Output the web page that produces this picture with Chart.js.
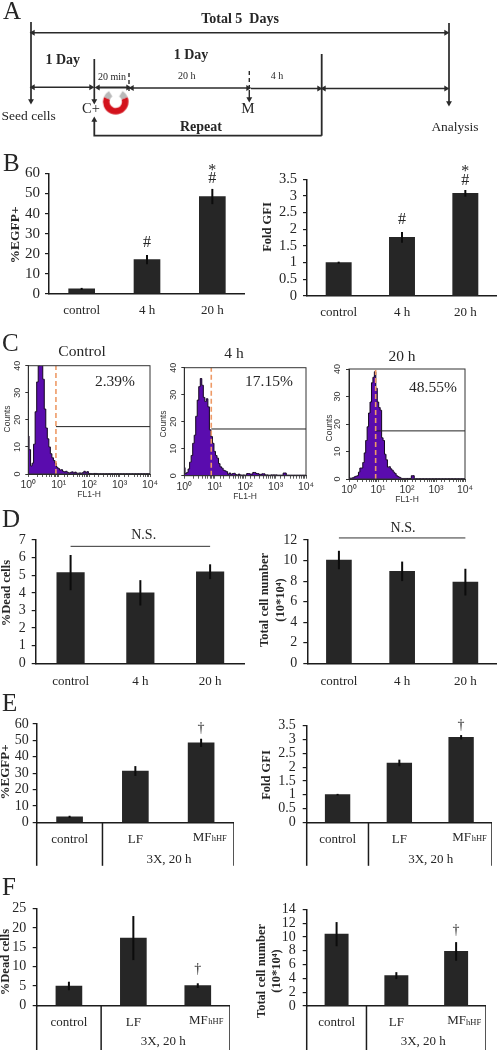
<!DOCTYPE html>
<html>
<head>
<meta charset="utf-8">
<title>Panels A-F</title>
<script src="https://cdn.jsdelivr.net/npm/chart.js@4/dist/chart.umd.min.js"></script>
<style>
html, body { margin: 0; padding: 0; background: #fff; }
#page { position: relative; width: 497px; height: 1050px; overflow: hidden; }
#page canvas { position: absolute; filter: blur(0.35px); }
</style>
</head>
<body>
<div id="page"></div>
<script>
// Categories
const timeCats = ['control', '4 h', '20 h'];
const fieldCats = ['control', 'LF', 'MFhHF'];

// Panel B
const bEgfp = [2.4, 17, 48.5];
const bEgfpErr = [0.5, 2.3, 3.8];
const bGfi = [1, 1.76, 3.08];
const bGfiErr = [0.03, 0.16, 0.1];

// Panel C, shared FL1-H bins and counts per bin
const flBins = [1, 1.12, 1.26, 1.41, 1.58, 1.78, 2, 2.24, 2.51, 2.82, 3.16, 3.55, 3.98, 4.47, 5.01, 5.62, 6.31, 7.08, 7.94, 8.91,
  10, 11.2, 12.6, 14.1, 15.8, 17.8, 20, 22.4, 25.1, 28.2, 31.6, 35.5, 39.8, 44.7, 50.1, 56.2, 63.1, 70.8, 79.4, 89.1,
  100, 126, 158, 200, 251, 316, 398, 501, 631, 794, 1000, 1260, 1580, 2000, 2510, 3160, 3980, 5010, 6310, 7940, 10000];
const controlCounts = [14, 9, 3, 4, 11, 23, 34, 40, 42, 42, 35, 24, 17, 13, 10, 7.5, 6, 5, 4, 2.5,
  2, 1.5, 1.6, 1, 0.8, 1, 0.6, 0.4, 0.6, 0.8, 0.4, 0.7, 0.3, 0.3, 0.4, 0.3, 0.5, 1, 0.5, 0.9,
  0.2, 0.1, 0.2, 0.1, 0.1, 0.1, 0.1, 0.1, 0.1, 0.1, 0.1, 0.1, 0.1, 0.1, 0.1, 0.1, 0.1, 0.1, 0.1, 0.1, 0.1];
const fourHourCounts = [3, 0.8, 1.2, 2.5, 5, 7.5, 12, 15, 22, 28, 33, 36, 33.5, 29, 27.5, 28.5, 25.5, 17, 14.5, 12,
  9, 7.5, 6.5, 4.5, 3.3, 2.8, 2, 1.8, 1.5, 0.6, 1, 0.5, 0.8, 0.9, 0.4, 0.3, 0.6, 0.3, 0.2, 0.3,
  0.2, 0.8, 0.6, 1.2, 0.8, 0.5, 0.7, 0.3, 0.2, 0.3, 0.3, 0.2, 0.2, 1, 0.2, 0.2, 0.2, 0.2, 0.2, 0.2, 0.2];
const twentyHourCounts = [0.3, 0.3, 0.3, 0.5, 0.8, 1, 1.2, 2.5, 4, 4, 6, 9.5, 14, 19, 24, 28, 35, 37, 39, 33,
  28, 26, 25, 15, 14, 9, 7, 4.3, 4.5, 3.7, 3.2, 2.5, 2, 1.2, 0.9, 0.6, 0.3, 0.2, 0.2, 0.2,
  0.2, 0.2, 1.2, 0.1, 0.1, 0.1, 0.1, 0.1, 0.1, 0.1, 0.1, 0.1, 0.1, 0.1, 0.1, 0.1, 0.1, 0.1, 0.1, 0.1, 0.1];

// Panel D
const dDead = [5.15, 4, 5.2];
const dDeadErr = [1, 0.72, 0.42];
const dTotal = [10.05, 8.95, 7.9];
const dTotalErr = [0.9, 0.95, 1.3];

// Panel E
const eEgfp = [3.3, 31.3, 48.5];
const eEgfpErr = [0.7, 3, 2.5];
const eGfi = [1, 2.15, 3.08];
const eGfiErr = [0.03, 0.12, 0.08];

// Panel F
const fDead = [5, 17.4, 5.1];
const fDeadErr = [1.1, 5.7, 0.6];
const fTotal = [10.4, 4.4, 7.9];
const fTotalErr = [1.75, 0.5, 1.35];

const SERIF = '"Liberation Serif", "Times New Roman", serif';
const SANS = '"Liberation Sans", Arial, sans-serif';
const INK = '#1c1c1c';
const TEXT = '#262626';
const page = document.getElementById('page');

// Make a canvas placed on the page
function addCanvas(left, top, width, height) {
    const c = document.createElement('canvas');
    c.width = width;
    c.height = height;
    c.style.left = left + 'px';
    c.style.top = top + 'px';
    c.style.width = width + 'px';
    c.style.height = height + 'px';
    page.appendChild(c);
    return c;
}

// Free text written in page coordinates
const notesPlugin = {
    id: 'notes',
    afterDraw(chart, args, opts) {
        const ctx = chart.ctx;
        (opts.items || []).forEach(n => {
            ctx.save();
            ctx.translate(n.x - opts.left, n.y - opts.top);
            if (n.rot) ctx.rotate(n.rot * Math.PI / 180);
            ctx.font = (n.bold ? 'bold ' : '') + (n.size || 14) + 'px ' + (n.family || SERIF);
            ctx.fillStyle = n.color || TEXT;
            ctx.textAlign = n.align || 'center';
            ctx.textBaseline = 'middle';
            ctx.fillText(n.text, 0, 0);
            ctx.restore();
        });
    }
};

// Error bars and the bracket lines under the grouped axes
const barExtras = {
    id: 'barExtras',
    afterDatasetsDraw(chart, args, opts) {
        const ctx = chart.ctx;
        const x = chart.scales.x;
        const y = chart.scales.y;
        ctx.save();
        ctx.strokeStyle = '#0c0c0c';
        ctx.lineWidth = 2;
        (opts.errs || []).forEach((e, i) => {
            const px = x.getPixelForValue(i);
            ctx.beginPath();
            ctx.moveTo(px, y.getPixelForValue(opts.vals[i] + e));
            ctx.lineTo(px, y.getPixelForValue(opts.vals[i] - e));
            ctx.stroke();
        });
        // marks above the bars, placed by value
        (opts.marks || []).forEach(m => {
            ctx.font = (m.size || 18) + 'px ' + SERIF;
            ctx.fillStyle = TEXT;
            ctx.textAlign = 'center';
            ctx.textBaseline = 'middle';
            ctx.fillText(m.text, x.getPixelForValue(m.cat), y.getPixelForValue(m.val));
        });
        if (opts.groupDrop) {
            const a = chart.chartArea;
            const mid = (x.getPixelForValue(0) + x.getPixelForValue(1)) / 2;
            ctx.strokeStyle = INK;
            ctx.lineWidth = 1.5;
            [a.left, mid, a.right].forEach(px => {
                ctx.beginPath();
                ctx.moveTo(px, a.bottom);
                ctx.lineTo(px, a.bottom + opts.groupDrop);
                ctx.stroke();
            });
        }
        ctx.restore();
    }
};

// One bar panel
function barPanel(p) {
    const top = p.top;
    const mL = p.x0 - p.left;
    const mT = p.y1 - top;
    const height = Math.ceil(p.y0 - top + p.mB);
    const width = p.x1 - p.left;
    const canvas = addCanvas(p.left, top, width, height);
    const datasets = [{
        type: 'bar',
        data: p.vals,
        backgroundColor: '#262626',
        barThickness: p.barW,
        order: 2
    }];
    if (p.nsValue) {
        datasets.push({
            type: 'line',
            data: [p.nsValue, null, p.nsValue],
            spanGaps: true,
            clip: false,
            borderColor: '#333',
            borderWidth: 1,
            pointRadius: 0,
            order: 1
        });
    }
    new Chart(canvas, {
        type: 'bar',
        data: { labels: p.cats, datasets },
        plugins: [barExtras, notesPlugin],
        options: {
            responsive: false,
            animation: false,
            layout: { autoPadding: false, padding: { top: mT, left: 0, right: 0, bottom: 0 } },
            plugins: {
                legend: { display: false },
                tooltip: { enabled: false },
                barExtras: { vals: p.vals, errs: p.errs, marks: p.marks, groupDrop: p.groupDrop },
                notes: { left: p.left, top, items: p.notes }
            },
            scales: {
                x: {
                    afterFit(s) { s.height = height - (p.y0 - top); },
                    grid: { display: false, drawTicks: false },
                    border: { color: INK, width: 1.5 },
                    ticks: {
                        padding: p.xPad,
                        color: TEXT,
                        maxRotation: 0,
                        autoSkip: false,
                        font: { family: SERIF, size: 13 },
                        // the subscript label is written as a note
                        callback(v) { const l = this.getLabelForValue(v); return l === 'MFhHF' ? '' : l; }
                    }
                },
                y: {
                    min: 0,
                    max: p.yMax,
                    afterFit(s) { s.width = mL; },
                    grid: { drawOnChartArea: false, drawTicks: true, tickLength: 4, color: INK, lineWidth: 1.2 },
                    border: { color: INK, width: 1.5 },
                    ticks: {
                        stepSize: p.step,
                        padding: p.yPad,
                        autoSkip: false,
                        color: TEXT,
                        font: { family: SERIF, size: p.tickSize || 14 },
                        callback: v => String(v)
                    }
                }
            }
        }
    });
}

// One flow cytometry histogram
function histPanel(p) {
    const top = p.top;
    const mL = p.x0 - p.left;
    const mT = p.y1 - top;
    const height = Math.ceil(p.y0 - top + 27);
    const rightRoom = 14;
    const width = p.x1 - p.left + rightRoom;
    const canvas = addCanvas(p.left, top, width, height);
    const points = flBins.map((x, i) => ({ x, y: p.counts[i] }));
    new Chart(canvas, {
        type: 'line',
        data: {
            datasets: [
                { data: [{ x: p.gate, y: 0 }, { x: p.gate, y: 40 }], borderColor: '#ee9a66', borderWidth: 1.6, borderDash: [5, 3], pointRadius: 0, order: 1 },
                { data: [{ x: p.gate, y: p.marker }, { x: 10000, y: p.marker }], borderColor: '#222', borderWidth: 1, pointRadius: 0, order: 2 },
                { data: points, stepped: 'middle', borderColor: '#14061f', borderWidth: 1, pointRadius: 0, fill: 'origin', backgroundColor: '#5a0cae', order: 3 }
            ]
        },
        plugins: [notesPlugin, {
            id: 'frame',
            afterDatasetsDraw(chart) {
                const a = chart.chartArea;
                chart.ctx.save();
                chart.ctx.strokeStyle = '#333';
                chart.ctx.lineWidth = 1;
                chart.ctx.strokeRect(a.left, a.top, a.right - a.left, a.bottom - a.top);
                chart.ctx.restore();
            }
        }],
        options: {
            responsive: false,
            animation: false,
            layout: { autoPadding: false, padding: { top: mT, left: 0, right: rightRoom, bottom: 0 } },
            plugins: {
                legend: { display: false },
                tooltip: { enabled: false },
                notes: { left: p.left, top, items: p.notes }
            },
            scales: {
                x: {
                    type: 'logarithmic',
                    min: 1,
                    max: 10000,
                    afterFit(s) { s.height = height - (p.y0 - top); s.paddingRight = 0; },
                    grid: { drawOnChartArea: false, tickLength: 3, color: '#333', lineWidth: 0.8 },
                    border: { color: '#222', width: 1 },
                    title: { display: true, text: 'FL1-H', color: '#333', font: { family: SANS, size: 8.5 }, padding: { top: 0, bottom: 1 } },
                    ticks: {
                        padding: 2,
                        color: '#333',
                        autoSkip: false,
                        maxRotation: 0,
                        font: { family: SANS, size: 10.5 },
                        callback(v) {
                            const sup = { 1: '10\u2070', 10: '10\u00b9', 100: '10\u00b2', 1000: '10\u00b3', 10000: '10\u2074' };
                            return sup[v] || '';
                        }
                    }
                },
                y: {
                    min: 0,
                    max: 40,
                    afterFit(s) { s.width = mL; },
                    grid: { drawOnChartArea: false, tickLength: 3, color: '#333', lineWidth: 1 },
                    border: { color: '#222', width: 1 },
                    ticks: {
                        stepSize: 10,
                        padding: 3,
                        color: '#333',
                        autoSkip: false,
                        minRotation: 90,
                        maxRotation: 90,
                        crossAlign: 'center',
                        font: { family: SANS, size: 9 }
                    }
                }
            }
        }
    });
}

// Build a magnet icon used as a point style
function magnetIcon() {
    const c = document.createElement('canvas');
    c.width = 30;
    c.height = 30;
    const g = c.getContext('2d');
    g.lineWidth = 6.5;
    g.strokeStyle = '#d3121c';
    g.beginPath();
    g.arc(15, 14, 9.5, -0.12 * Math.PI, 1.12 * Math.PI);
    g.stroke();
    g.strokeStyle = '#b9b9b9';
    g.beginPath();
    g.arc(15, 14, 9.5, -0.32 * Math.PI, -0.12 * Math.PI);
    g.stroke();
    g.beginPath();
    g.arc(15, 14, 9.5, 1.12 * Math.PI, 1.32 * Math.PI);
    g.stroke();
    return c;
}

// One segment of the protocol diagram, heads gives the arrow heads as [start, end]
function segment(pts, heads, extra) {
    return Object.assign({
        data: pts.map(p => ({ x: p[0], y: p[1] })),
        showLine: true,
        borderColor: '#2a2a2a',
        borderWidth: 1.4,
        pointBackgroundColor: '#2a2a2a',
        pointBorderColor: '#2a2a2a',
        pointBorderWidth: 0,
        pointStyle: 'triangle',
        pointRadius: pts.map((p, i) => {
            if (i === 0) return heads && heads[0] !== null ? 3.4 : 0;
            if (i === pts.length - 1) return heads && heads[1] !== null ? 3.4 : 0;
            return 0;
        }),
        pointRotation: pts.map((p, i) => (i === 0 && heads ? heads[0] : heads ? heads[1] : 0)),
        clip: false
    }, extra || {});
}

// Panel A, the protocol timeline
function timeline() {
    const canvas = addCanvas(0, 0, 497, 160);
    const L = 270, R = 90, D = 180, U = 0;
    new Chart(canvas, {
        type: 'scatter',
        data: {
            datasets: [
                segment([[31, 22], [31, 101]], [null, D], { borderWidth: 1.7 }),
                segment([[33, 32.7], [446, 32.7]], [L, R]),
                segment([[449, 23], [449, 103]], [null, D], { borderWidth: 1.7 }),
                segment([[94.3, 59], [94.3, 101]], [null, D], { borderWidth: 1.7 }),
                segment([[33, 87.3], [91, 87.3]], [L, R]),
                segment([[98, 87.5], [128, 87.5]], [L, R], { borderWidth: 2 }),
                segment([[129, 73], [129, 91]], null, { borderDash: [4, 3] }),
                segment([[132, 88], [248, 88]], [L, R], { borderWidth: 1.7 }),
                segment([[249.3, 71], [249.3, 90]], null, { borderDash: [4, 3] }),
                segment([[249.3, 90], [249.3, 99]], [null, D]),
                segment([[251, 88.5], [319, 88.5]], [null, R]),
                segment([[324, 88.5], [446, 88.5]], [L, R]),
                segment([[321.7, 54], [321.7, 135.7]], null, { borderWidth: 1.8 }),
                segment([[321.7, 135.7], [94.3, 135.7], [94.3, 120]], [null, U], { borderWidth: 1.8 }),
                { data: [{ x: 115.7, y: 102.7 }], pointStyle: magnetIcon(), pointRadius: 15, showLine: false }
            ]
        },
        plugins: [notesPlugin],
        options: {
            responsive: false,
            animation: false,
            layout: { autoPadding: false, padding: 0 },
            plugins: {
                legend: { display: false },
                tooltip: { enabled: false },
                notes: {
                    left: 0,
                    top: 0,
                    items: [
                        { text: 'A', x: 3, y: 12, size: 25, align: 'left' },
                        { text: 'Total 5  Days', x: 240, y: 19, size: 14, bold: true },
                        { text: '1 Day', x: 62.7, y: 60, size: 14, bold: true },
                        { text: '1 Day', x: 191, y: 55, size: 14, bold: true },
                        { text: '20 min', x: 112, y: 77, size: 10 },
                        { text: '20 h', x: 186.7, y: 76.5, size: 10 },
                        { text: '4 h', x: 277, y: 76.5, size: 10 },
                        { text: 'Seed cells', x: 28.7, y: 116.5, size: 13.5 },
                        { text: 'C+', x: 91, y: 109, size: 14.5 },
                        { text: 'M', x: 248, y: 109, size: 15 },
                        { text: 'Repeat', x: 201, y: 127, size: 14, bold: true },
                        { text: 'Analysis', x: 455, y: 127, size: 13.5 }
                    ]
                }
            },
            scales: {
                x: { type: 'linear', display: false, min: 0, max: 497 },
                y: { type: 'linear', display: false, min: 0, max: 160, reverse: true }
            }
        }
    });
}

timeline();

// Panel B
barPanel({
    cats: timeCats, vals: bEgfp, errs: bEgfpErr, left: 0, top: 150,
    x0: 49, x1: 245, y0: 293.7, y1: 173.5, mB: 24, yMax: 60, step: 10, barW: 26, tickSize: 15, yPad: 5, xPad: 9,
    marks: [{ cat: 1, val: 25.3, text: '#', size: 16 }, { cat: 2, val: 57.2, text: '#', size: 16 }, { cat: 2, val: 61.5, text: '*', size: 16 }],
    notes: [
        { text: 'B', x: 3, y: 164, size: 25, align: 'left' },
        { text: '%EGFP+', x: 16, y: 235, rot: -90, size: 13.5, bold: true }
    ]
});
barPanel({
    cats: timeCats, vals: bGfi, errs: bGfiErr, left: 255, top: 150,
    x0: 307, x1: 497, y0: 296, y1: 179.3, mB: 24, yMax: 3.5, step: 0.5, barW: 25.3, tickSize: 14.5, yPad: 6, xPad: 9,
    marks: [{ cat: 1, val: 2.28, text: '#', size: 16 }, { cat: 2, val: 3.45, text: '#', size: 16 }, { cat: 2, val: 3.72, text: '*', size: 16 }],
    notes: [{ text: 'Fold GFI', x: 268, y: 227, rot: -90, size: 12.5, bold: true }]
});

// Panel C
histPanel({
    counts: controlCounts, gate: 8.1, marker: 17.5, left: 0, top: 330,
    x0: 28.3, x1: 150, y0: 474, y1: 365.7,
    notes: [
        { text: 'C', x: 2, y: 344, size: 25, align: 'left' },
        { text: 'Control', x: 82, y: 352, size: 15.5 },
        { text: '2.39%', x: 115, y: 382, size: 15.5 },
        { text: 'Counts', x: 8, y: 419, rot: -90, size: 8.5, family: SANS, color: '#333' }
    ]
});
histPanel({
    counts: fourHourCounts, gate: 7.7, marker: 17.3, left: 160, top: 340,
    x0: 184.3, x1: 306, y0: 475.7, y1: 367.7,
    notes: [
        { text: '4 h', x: 234, y: 354, size: 15.5 },
        { text: '17.15%', x: 269, y: 382, size: 15.5 },
        { text: 'Counts', x: 164, y: 424, rot: -90, size: 8.5, family: SANS, color: '#333' }
    ]
});
histPanel({
    counts: twentyHourCounts, gate: 8.3, marker: 17.5, left: 322, top: 345,
    x0: 349, x1: 465, y0: 479, y1: 369,
    notes: [
        { text: '20 h', x: 402, y: 357, size: 15.5 },
        { text: '48.55%', x: 433, y: 388, size: 15.5 },
        { text: 'Counts', x: 330, y: 428, rot: -90, size: 8.5, family: SANS, color: '#333' }
    ]
});

// Panel D
barPanel({
    cats: timeCats, vals: dDead, errs: dDeadErr, left: 0, top: 505,
    x0: 35.7, x1: 245, y0: 663.3, y1: 540, mB: 26, yMax: 7, step: 1, barW: 27.5, yPad: 6, xPad: 10, nsValue: 6.64,
    notes: [
        { text: 'D', x: 2, y: 520, size: 25, align: 'left' },
        { text: 'N.S.', x: 143.7, y: 535.7, size: 14 },
        { text: '%Dead cells', x: 7, y: 593, rot: -90, size: 12.5, bold: true }
    ]
});
barPanel({
    cats: timeCats, vals: dTotal, errs: dTotalErr, left: 255, top: 515,
    x0: 307.3, x1: 497, y0: 663.3, y1: 540, mB: 26, yMax: 12, step: 2, barW: 25, yPad: 6, xPad: 10, nsValue: 12.2,
    notes: [
        { text: 'N.S.', x: 403, y: 528, size: 14 },
        { text: 'Total cell number', x: 264.3, y: 600, rot: -90, size: 12.5, bold: true },
        { text: '(10*10\u2074)', x: 280.5, y: 600, rot: -90, size: 12.5, bold: true }
    ]
});

// Panel E
barPanel({
    cats: fieldCats, vals: eEgfp, errs: eEgfpErr, left: 0, top: 690,
    x0: 36.7, x1: 234, y0: 822.3, y1: 724, mB: 46, yMax: 60, step: 10, barW: 26, yPad: 4, xPad: 9, groupDrop: 43.5,
    marks: [{ cat: 2, val: 57.5, text: '\u2020', size: 14 }],
    notes: [
        { text: 'E', x: 2, y: 704, size: 25, align: 'left' },
        { text: '%EGFP+', x: 6, y: 772, rot: -90, size: 13, bold: true },
        { text: 'MF', x: 192.7, y: 837.7, size: 13, align: 'left' },
        { text: 'hHF', x: 211.7, y: 839, size: 8.5, align: 'left' },
        { text: '3X, 20 h', x: 169, y: 860, size: 13 }
    ]
});
barPanel({
    cats: fieldCats, vals: eGfi, errs: eGfiErr, left: 255, top: 700,
    x0: 306.7, x1: 492, y0: 822.3, y1: 725.7, mB: 46, yMax: 3.5, step: 0.5, barW: 24.7, yPad: 7, xPad: 9, groupDrop: 43.5,
    marks: [{ cat: 2, val: 3.5, text: '\u2020', size: 14 }],
    notes: [
        { text: 'Fold GFI', x: 267, y: 775, rot: -90, size: 12.5, bold: true },
        { text: 'MF', x: 452.3, y: 837.7, size: 13, align: 'left' },
        { text: 'hHF', x: 471.7, y: 839, size: 8.5, align: 'left' },
        { text: '3X, 20 h', x: 430.7, y: 860, size: 13 }
    ]
});

// Panel F
barPanel({
    cats: fieldCats, vals: fDead, errs: fDeadErr, left: 0, top: 875,
    x0: 36.7, x1: 230, y0: 1005.3, y1: 908.7, mB: 45, yMax: 25, step: 5, barW: 26, yPad: 6.5, xPad: 9, groupDrop: 45,
    marks: [{ cat: 2, val: 9.4, text: '\u2020', size: 14 }],
    notes: [
        { text: 'F', x: 2, y: 888, size: 25, align: 'left' },
        { text: '%Dead cells', x: 6, y: 962, rot: -90, size: 12.5, bold: true },
        { text: 'MF', x: 189, y: 1020.7, size: 13, align: 'left' },
        { text: 'hHF', x: 208.3, y: 1022, size: 8.5, align: 'left' },
        { text: '3X, 20 h', x: 163.3, y: 1042, size: 13 }
    ]
});
barPanel({
    cats: fieldCats, vals: fTotal, errs: fTotalErr, left: 255, top: 885,
    x0: 306.7, x1: 486, y0: 1006, y1: 909.3, mB: 44, yMax: 14, step: 2, barW: 23.3, yPad: 7, xPad: 9, groupDrop: 44,
    marks: [{ cat: 2, val: 11, text: '\u2020', size: 14 }],
    notes: [
        { text: 'Total cell number', x: 261.7, y: 971, rot: -90, size: 12.5, bold: true },
        { text: '(10*10\u2074)', x: 277, y: 971, rot: -90, size: 12.5, bold: true },
        { text: 'MF', x: 447.3, y: 1021, size: 13, align: 'left' },
        { text: 'hHF', x: 466, y: 1022.3, size: 8.5, align: 'left' },
        { text: '3X, 20 h', x: 423.3, y: 1042, size: 13 }
    ]
});
</script>
</body>
</html>
